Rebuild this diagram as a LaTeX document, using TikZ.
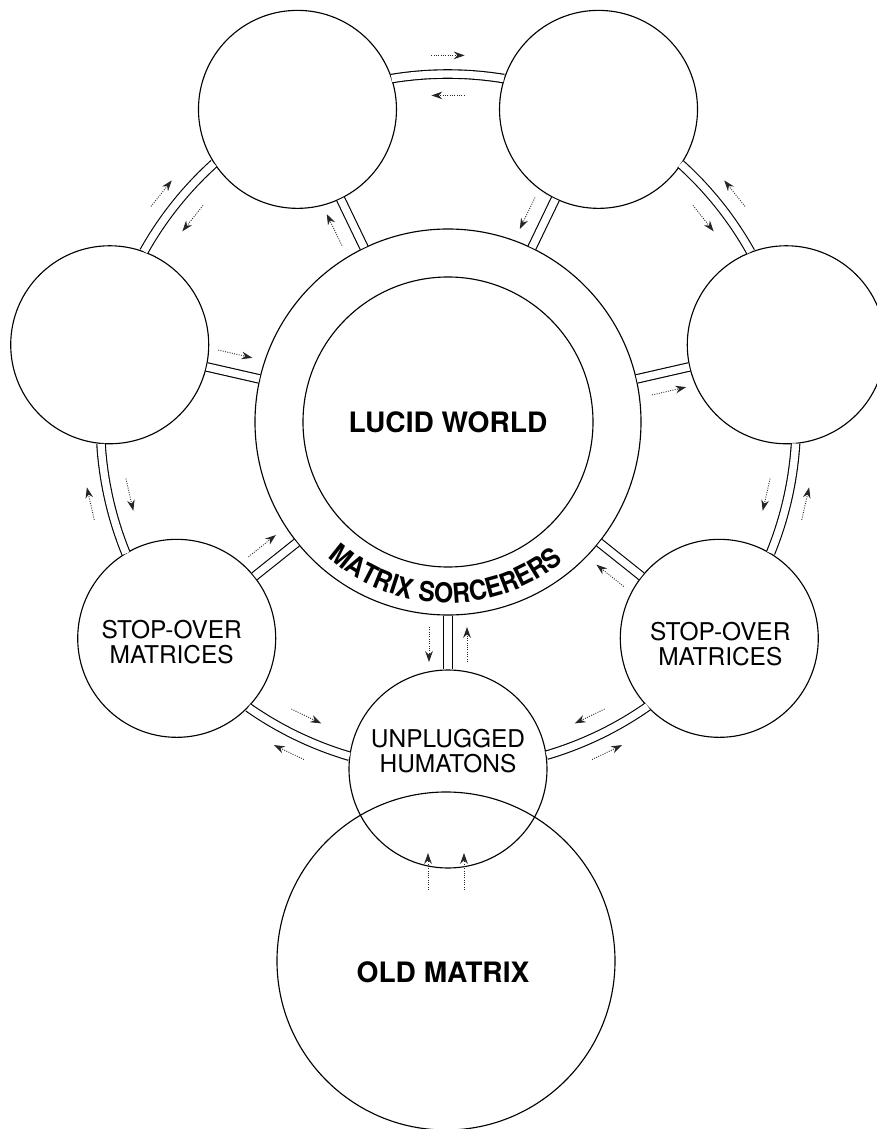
\documentclass[tikz,border=0pt]{standalone}
\usepackage{fontspec}
\setmainfont{TeX Gyre Heros}
\newfontfamily\ringfont[FakeStretch=0.9]{TeX Gyre Heros}
\usetikzlibrary{arrows.meta, decorations.text}

\begin{document}
\begin{tikzpicture}[x=0.25mm, y=0.25mm,
    world/.style={draw, circle, line width=0.8pt, inner sep=0pt},
    hub/.style={world, minimum size=49.5mm},
    channel/.style={line width=0.8pt, double, double distance=1.84mm},
    flow/.style={densely dotted, line width=0.65pt, black!85, -{Stealth[length=2.7mm, width=1.9mm]}},
    hubname/.style={align=center, font=\fontsize{17.4}{17.6}\selectfont},
    title/.style={font=\bfseries\fontsize{20}{22}\selectfont}]

\useasboundingbox (-448, 422) rectangle (429, -707);

% Central world and its ring
\node[world, minimum size=96.5mm] (sorcerers) at (0,0) {};
\node[world, minimum size=72.5mm, title] (lucid) at (0,0) {LUCID WORLD};

% Text round the ring
\path[decorate, decoration={text along path, text align=center,
    text={|\ringfont\bfseries\fontsize{19.5}{22}\selectfont|MATRIX SORCERERS}}]
  (212:181) arc[start angle=212, end angle=326, radius=181];

% Seven matrices on the outer ring
\node[hub] (c0) at (270:347) {};
\node[hub] (c1) at (321.43:347) {};
\node[hub] (c2) at (12.86:347) {};
\node[hub] (c3) at (64.29:347) {};
\node[hub] (c4) at (115.71:347) {};
\node[hub] (c5) at (167.14:347) {};
\node[hub] (c6) at (218.57:347) {};

\node[hubname] (c0txt) at ([yshift=13]c0.center) {UNPLUGGED\\HUMATONS};
\node[hubname] (c1txt) at ([shift={(1,-6)}]c1.center) {STOP-OVER\\MATRICES};
\node[hubname] (c6txt) at ([shift={(-5,-4)}]c6.center) {STOP-OVER\\MATRICES};

% Old matrix below
\node[world, minimum size=84.5mm] (old) at (-2,-539) {};
\node[title] (oldtxt) at (-5,-550) {OLD MATRIX};

% Spokes from the ring
\foreach \k in {0,...,6} {
    \draw[channel] (sorcerers) -- (c\k);
}

% Channels between the matrices
\foreach \k/\n in {0/1, 1/2, 2/3, 3/4, 4/5, 5/6, 6/0} {
    \pgfmathsetmacro\a{270+\k*360/7}
    \pgfmathsetmacro\b{\a+98.2}
    \pgfmathsetmacro\s{\a+16.4}
    \pgfmathsetmacro\e{\a+360/7-16.4}
    \draw[channel] (c\k.\b) arc[start angle=\s, end angle=\e, radius=347];
}

% Flow along the channels (inner and outer side)
\foreach \k/\d in {0/-1, 1/-1, 2/-1, 3/1, 4/1, 5/1, 6/1} {
    \pgfmathsetmacro\m{270+\k*360/7+180/7}
    \pgfmathsetmacro\ia{\m-\d*2.9}
    \pgfmathsetmacro\ib{\m+\d*2.9}
    \pgfmathsetmacro\oa{\m+\d*2.6}
    \pgfmathsetmacro\ob{\m-\d*2.6}
    \draw[flow] (\ia:327) -- (\ib:327);
    \draw[flow] (\oa:367) -- (\ob:367);
}

% Flow along the spokes
\foreach \k/\side/\ra/\rb in {0/-1/205/240, 0/1/240/205, 1/-1/240/205, 2/-1/205/240,
                               3/1/240/205, 4/1/205/240, 5/-1/240/205, 6/-1/240/205} {
    \pgfmathsetmacro\a{270+\k*360/7}
    \pgfmathsetmacro\p{\a+\side*90}
    \draw[flow] ([shift={(\p:19)}]\a:\ra) -- ([shift={(\p:19)}]\a:\rb);
}

% Way up from the old matrix
\draw[flow] ([shift={(-20,-121)}]c0.center) -- ([shift={(-20,-84)}]c0.center);
\draw[flow] ([shift={(16,-121)}]c0.center) -- ([shift={(16,-84)}]c0.center);

\end{tikzpicture}
\end{document}
